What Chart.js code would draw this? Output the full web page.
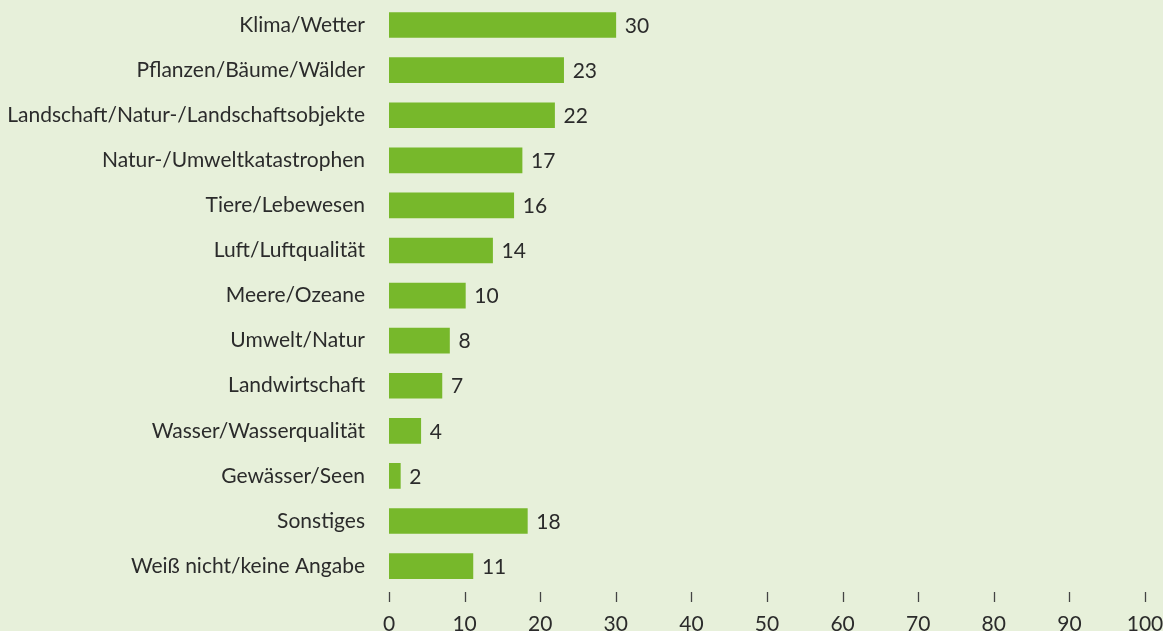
<!DOCTYPE html>
<html lang="de">
<head>
<meta charset="utf-8">
<title>Themen</title>
<script src="https://cdn.jsdelivr.net/npm/chart.js@4.4.1/dist/chart.umd.min.js"></script>
<style>
  html, body { margin: 0; padding: 0; background: #e7f0da; }
  #wrap { width: 1163px; height: 631px; position: relative; }
</style>
</head>
<body>
<div id="wrap"><canvas id="chart"></canvas></div>
<script>
// Kategorien (von oben nach unten)
const categories = [
    'Klima/Wetter',
    'Pflanzen/Bäume/Wälder',
    'Landschaft/Natur-/Landschaftsobjekte',
    'Natur-/Umweltkatastrophen',
    'Tiere/Lebewesen',
    'Luft/Luftqualität',
    'Meere/Ozeane',
    'Umwelt/Natur',
    'Landwirtschaft',
    'Wasser/Wasserqualität',
    'Gewässer/Seen',
    'Sonstiges',
    'Weiß nicht/keine Angabe'
];
// Balkenlängen (aus dem Bild geschätzt) und die angezeigten Werte
const values = [30.0, 23.1, 21.9, 17.6, 16.5, 13.7, 10.1, 8.0, 7.0, 4.2, 1.5, 18.3, 11.1];
const valueLabels = ['30', '23', '22', '17', '16', '14', '10', '8', '7', '4', '2', '18', '11'];
// x-Achse
const xTicks = [0, 10, 20, 30, 40, 50, 60, 70, 80, 90, 100];

const FONT = 'Lato, "Open Sans", sans-serif';
const TEXT = '#2b2b2b';

// Hintergrund
const bgPlugin = {
    id: 'bg',
    beforeDraw(chart) {
        const ctx = chart.ctx;
        ctx.save();
        ctx.fillStyle = '#e7f0da';
        ctx.fillRect(0, 0, chart.width, chart.height);
        ctx.restore();
    }
};

// Werte rechts neben den Balken
const valuePlugin = {
    id: 'values',
    afterDatasetsDraw(chart) {
        const ctx = chart.ctx;
        const meta = chart.getDatasetMeta(0);
        ctx.save();
        ctx.font = '21px ' + FONT;
        ctx.fillStyle = TEXT;
        ctx.textAlign = 'left';
        ctx.textBaseline = 'middle';
        meta.data.forEach((bar, i) => {
            ctx.fillText(valueLabels[i], bar.x + 9, bar.y + 1);
        });
        ctx.restore();
    }
};

// kleine Tickstriche unter dem Diagramm (mit Abstand)
const tickPlugin = {
    id: 'tickMarks',
    afterDraw(chart) {
        const ctx = chart.ctx;
        const x = chart.scales.x;
        ctx.save();
        ctx.strokeStyle = '#444';
        ctx.lineWidth = 1.3;
        x.ticks.forEach((t, i) => {
            const px = Math.round(x.getPixelForTick(i)) + 0.5;
            ctx.beginPath();
            ctx.moveTo(px, 592);
            ctx.lineTo(px, 602);
            ctx.stroke();
        });
        ctx.restore();
    }
};

new Chart(document.getElementById('chart'), {
    type: 'bar',
    data: {
        labels: categories,
        datasets: [{
            data: values,
            backgroundColor: '#77b82b',
            barThickness: 25
        }]
    },
    options: {
        indexAxis: 'y',
        responsive: true,
        maintainAspectRatio: false,
        animation: false,
        layout: { padding: { top: 2.5, right: 18, bottom: 0, left: 0 } },
        plugins: {
            legend: { display: false },
            tooltip: { enabled: false }
        },
        scales: {
            x: {
                min: 0,
                max: 100,
                afterBuildTicks: (axis) => {
                    axis.ticks = xTicks.map(v => ({ value: v }));
                },
                afterFit: (axis) => {
                    axis.height = 42.4;
                    axis.paddingLeft = 0;
                    axis.paddingRight = 0;
                },
                grid: { display: false, drawTicks: false },
                border: { display: false },
                ticks: {
                    padding: 23,
                    color: TEXT,
                    font: { family: FONT, size: 21 },
                    maxRotation: 0
                }
            },
            y: {
                afterFit: (axis) => {
                    axis.width = 389;
                    axis.paddingTop = 0;
                    axis.paddingBottom = 0;
                },
                grid: { display: false, drawTicks: false },
                border: { display: false },
                ticks: {
                    padding: 24,
                    color: TEXT,
                    font: { family: FONT, size: 21 }
                }
            }
        }
    },
    plugins: [bgPlugin, valuePlugin, tickPlugin]
});
</script>
</body>
</html>
